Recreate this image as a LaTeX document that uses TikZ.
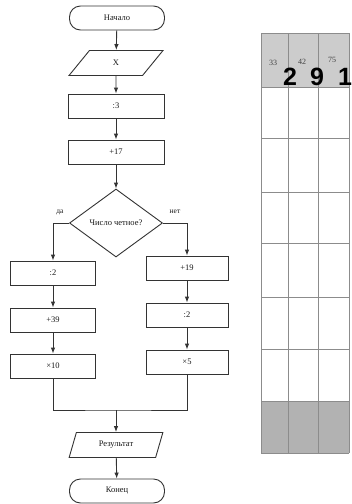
\documentclass[tikz,border=0pt]{standalone}
\usepackage{fontspec}
\setmainfont{Liberation Serif}
\newfontfamily\bigsans{Liberation Sans}
\usetikzlibrary{shapes.geometric,arrows.meta}
\begin{document}
\begin{tikzpicture}[x=1pt,y=-1pt,
  every node/.style={font=\fontsize{8.5}{10}\selectfont, text=black!90},
  ln/.style={draw=black!80, line width=0.9pt},
  arr/.style={ln, -{Latex[length=6pt,width=4.5pt]}},
  term/.style={ln, rectangle, rounded corners=11pt, minimum width=95pt, minimum height=24pt, inner sep=0pt},
  proc/.style={ln, rectangle, minimum height=24pt, inner sep=0pt},
  para/.style={ln, trapezium, trapezium left angle=67, trapezium right angle=113, trapezium stretches=true, minimum width=94pt, minimum height=25pt, inner sep=0pt},
  dec/.style={ln, diamond, aspect=1.37, minimum width=93pt, minimum height=68pt, inner sep=0pt},
  lab/.style={font=\fontsize{7.5}{9}\selectfont},
  grid/.style={draw=black!45, line width=0.8pt},
  small/.style={font=\fontsize{8}{9}\selectfont, text=black!75},
  big/.style={font=\bigsans\bfseries\fontsize{25}{25}\selectfont, text=black}
]
\useasboundingbox (0,0) rectangle (352,504);
\fill[white] (0,0) rectangle (352,504);

% flowchart
\node[term] (start) at (117,18) {Начало};
\node[para] (in) at (116,63) {X};
\node[proc, minimum width=96pt] (d3) at (116,106) {:3};
\node[proc, minimum width=96pt] (p17) at (116,152) {+17};
\node[dec] (q) at (116,223) {Число четное?};
\node[proc, minimum width=85pt] (l1) at (53,273) {:2};
\node[proc, minimum width=85pt] (l2) at (53,320) {+39};
\node[proc, minimum width=85pt] (l3) at (53,366) {×10};
\node[proc, minimum width=82pt] (r1) at (187,268) {+19};
\node[proc, minimum width=82pt] (r2) at (187,315) {:2};
\node[proc, minimum width=82pt] (r3) at (187,362) {×5};
\node[para] (res) at (116,445) {Результат};
\node[term] (stop) at (117,491) {Конец};
\node[lab] (yes) at (60,212) {да};
\node[lab] (no) at (175,212) {нет};
\coordinate (j) at (116,410);

\draw[arr] (start) -- (in);
\draw[arr] (in) -- (d3);
\draw[arr] (d3) -- (p17);
\draw[arr] (p17) -- (q);
\draw[arr] (q.west) -| (l1.north);
\draw[arr] (q.east) -| (r1.north);
\draw[arr] (l1) -- (l2);
\draw[arr] (l2) -- (l3);
\draw[arr] (r1) -- (r2);
\draw[arr] (r2) -- (r3);
\draw[ln] (l3.south) |- (j) -| (r3.south);
\draw[arr] (j) -- (res);
\draw[arr] (res) -- (stop);

% table
\fill[gray!40] (261,33) rectangle (349,87);
\fill[gray!60] (261,401) rectangle (349,453);
\foreach \y in {33,87,138,192,243,297,349,401,453} \draw[grid] (261,\y) -- (349,\y);
\foreach \x in {261,288,318,349} \draw[grid] (\x,33) -- (\x,453);
\node[small] (h1) at (273,63) {33};
\node[small] (h2) at (302,62) {42};
\node[small] (h3) at (332,60) {75};
\node[big] (b1) at (290,77) {2};
\node[big] (b2) at (317,77) {9};
\node[big] (b3) at (345,77) {1};
\end{tikzpicture}
\end{document}
